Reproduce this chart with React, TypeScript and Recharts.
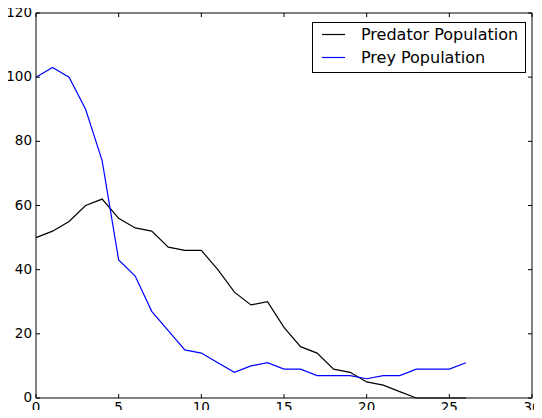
import React from "react";
import { LineChart, Line, XAxis, YAxis, Legend } from "recharts";

const steps = [0, 1, 2, 3, 4, 5, 6, 7, 8, 9, 10, 11, 12, 13, 14, 15, 16, 17, 18, 19, 20, 21, 22, 23, 24, 25, 26];
const predator = [50, 52, 55, 60, 62, 56, 53, 52, 47, 46, 46, 40, 33, 29, 30, 22, 16, 14, 9, 8, 5, 4, 2, 0, 0, 0, 0];
const prey = [100, 103, 100, 90, 74, 43, 38, 27, 21, 15, 14, 11, 8, 10, 11, 9, 9, 7, 7, 7, 6, 7, 7, 9, 9, 9, 11];
const xTicks = [0, 5, 10, 15, 20, 25, 30];
const yTicks = [0, 20, 40, 60, 80, 100, 120];

const data = steps.map((t, i) => ({ t, predator: predator[i], prey: prey[i] }));

const font = "'DejaVu Sans', sans-serif";
const TICK = 4;

// matplotlib style: ticks point inward, labels outside
const BottomTick = (props: any) => {
  const { x, y, payload } = props;
  return (
    <g>
      <line x1={x} y1={y} x2={x} y2={y - TICK} stroke="#000" />
      <text x={x} y={y + 13.5} textAnchor="middle" fontSize={13.5} fontFamily={font} fill="#000">
        {payload.value}
      </text>
    </g>
  );
};

const LeftTick = (props: any) => {
  const { x, y, payload } = props;
  return (
    <g>
      <line x1={x} y1={y} x2={x + TICK} y2={y} stroke="#000" />
      <text x={x - 4} y={y + 4} textAnchor="end" fontSize={13.5} fontFamily={font} fill="#000">
        {payload.value}
      </text>
    </g>
  );
};

const TopTick = (props: any) => {
  const { x, y } = props;
  return <line x1={x} y1={y} x2={x} y2={y + TICK} stroke="#000" />;
};

const RightTick = (props: any) => {
  const { x, y } = props;
  return <line x1={x} y1={y} x2={x - TICK} y2={y} stroke="#000" />;
};

const LegendBox = (props: any) => {
  const { payload } = props;
  return (
    <svg width={214} height={51} style={{ display: "block" }}>
      <rect x={0.5} y={0.5} width={213} height={50} fill="#fff" stroke="#000" />
      {(payload || []).map((entry: any, i: number) => {
        const cy = 12.5 + i * 23;
        return (
          <g key={entry.value}>
            <line x1={10} y1={cy} x2={33} y2={cy} stroke={entry.color} strokeWidth={1.2} />
            <text x={49} y={cy + 5.5} fontSize={16} fontFamily={font} fill="#000">
              {entry.value}
            </text>
          </g>
        );
      })}
    </svg>
  );
};

export default function App() {
  return (
    <div style={{ margin: -8, width: 542, height: 418 }}>
      <LineChart width={542} height={418} data={data} margin={{ top: 8, right: 5, bottom: 0, left: 0 }}>
        <XAxis
          xAxisId="b"
          dataKey="t"
          type="number"
          domain={[0, 30]}
          ticks={xTicks}
          interval={0}
          height={20}
          tickSize={0}
          tickMargin={0}
          tickLine={false}
          tick={<BottomTick />}
          axisLine={{ stroke: "#000" }}
        />
        <XAxis
          xAxisId="t"
          orientation="top"
          dataKey="t"
          type="number"
          domain={[0, 30]}
          ticks={xTicks}
          interval={0}
          height={5}
          tickSize={0}
          tickMargin={0}
          tickLine={false}
          tick={<TopTick />}
          axisLine={{ stroke: "#000" }}
        />
        <YAxis
          yAxisId="l"
          type="number"
          domain={[0, 120]}
          ticks={yTicks}
          interval={0}
          width={36}
          tickSize={0}
          tickMargin={0}
          tickLine={false}
          tick={<LeftTick />}
          axisLine={{ stroke: "#000" }}
        />
        <YAxis
          yAxisId="r"
          orientation="right"
          type="number"
          domain={[0, 120]}
          ticks={yTicks}
          interval={0}
          width={5}
          tickSize={0}
          tickMargin={0}
          tickLine={false}
          tick={<RightTick />}
          axisLine={{ stroke: "#000" }}
        />
        <Line
          xAxisId="b"
          yAxisId="l"
          dataKey="predator"
          name="Predator Population"
          stroke="#000000"
          strokeWidth={1.2}
          dot={false}
          activeDot={false}
          isAnimationActive={false}
        />
        {/* top/right axes share the same domain, so prey plots identically */}
        <Line
          xAxisId="t"
          yAxisId="r"
          dataKey="prey"
          name="Prey Population"
          stroke="#0000ff"
          strokeWidth={1.2}
          dot={false}
          activeDot={false}
          isAnimationActive={false}
        />
        <Legend
          layout="vertical"
          align="center"
          verticalAlign="middle"
          content={<LegendBox />}
          wrapperStyle={{ left: 311.5, top: 21.5, width: 214, height: 51 }}
        />
      </LineChart>
    </div>
  );
}
